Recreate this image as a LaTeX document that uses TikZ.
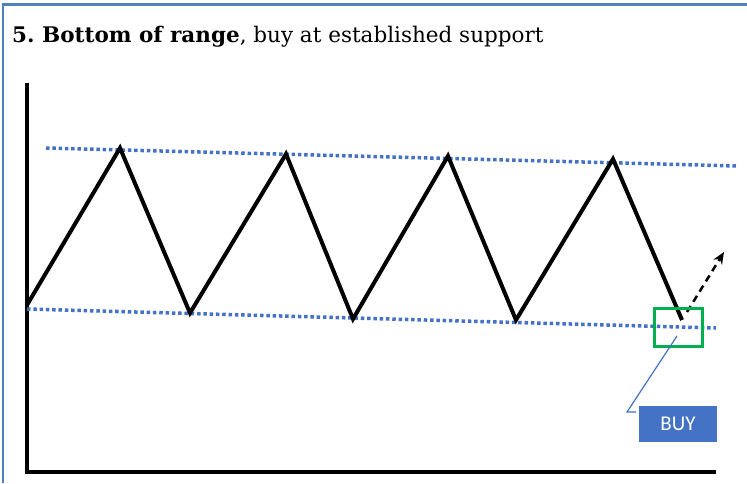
\documentclass[tikz,border=0pt]{standalone}
\usepackage{fontspec}
\setmainfont{DejaVu Serif}
\newfontfamily\buyfont{Carlito}
\usepackage{tikz}
\usetikzlibrary{positioning,arrows.meta}

\definecolor{framebl}{HTML}{4F81BD}
\definecolor{levelbl}{HTML}{4472C4}
\definecolor{boxgreen}{HTML}{00B050}

\tikzset{
  level/.style={levelbl, line width=3.5, dash pattern=on 3.5 off 2.8},
  price/.style={black, line width=4, line join=miter},
}

\begin{document}
\begin{tikzpicture}[x=1pt,y=-1pt]
  \useasboundingbox (0,0) rectangle (747,483);
  % frame
  \draw[framebl, line width=2.5] (3,483) -- (3,4.5) -- (747,4.5);
  % title
  \node[anchor=base west, inner sep=0, font=\fontsize{21.5}{25}\selectfont] (title) at (12,42)
    {\textbf{5.\ Bottom of range}, buy at established support};
  % axes
  \draw[line width=4] (27,83) -- (27,472) -- (716,472);
  % resistance and support
  \draw[level] (46,148) -- (737,166);
  \draw[level] (27,309) -- (716,328);
  % price
  \draw[price] (27,305) -- (120,148) -- (190,313) -- (286,154) -- (353,319)
    -- (448,156) -- (516,320) -- (613,159) -- (682,320);
  \draw[line width=2.5, dash pattern=on 7 off 5, -{Stealth[length=12,width=10]}] (687,312) -- (724,252);
  % entry box and label
  \node[draw=boxgreen, line width=3, minimum width=48, minimum height=38, inner sep=0] (entry) at (678.5,327) {};
  \node[fill=levelbl, text=white, minimum width=78, minimum height=36, inner sep=0,
    font=\buyfont\fontsize{21}{24}\selectfont] (buy) at (678,424) {BUY};
  \coordinate (tail) at (677,336);
  \coordinate (elbow) at (627,412);
  \draw[levelbl, line width=1.2] (tail) -- (elbow) -- ++(9,0);
\end{tikzpicture}
\end{document}
